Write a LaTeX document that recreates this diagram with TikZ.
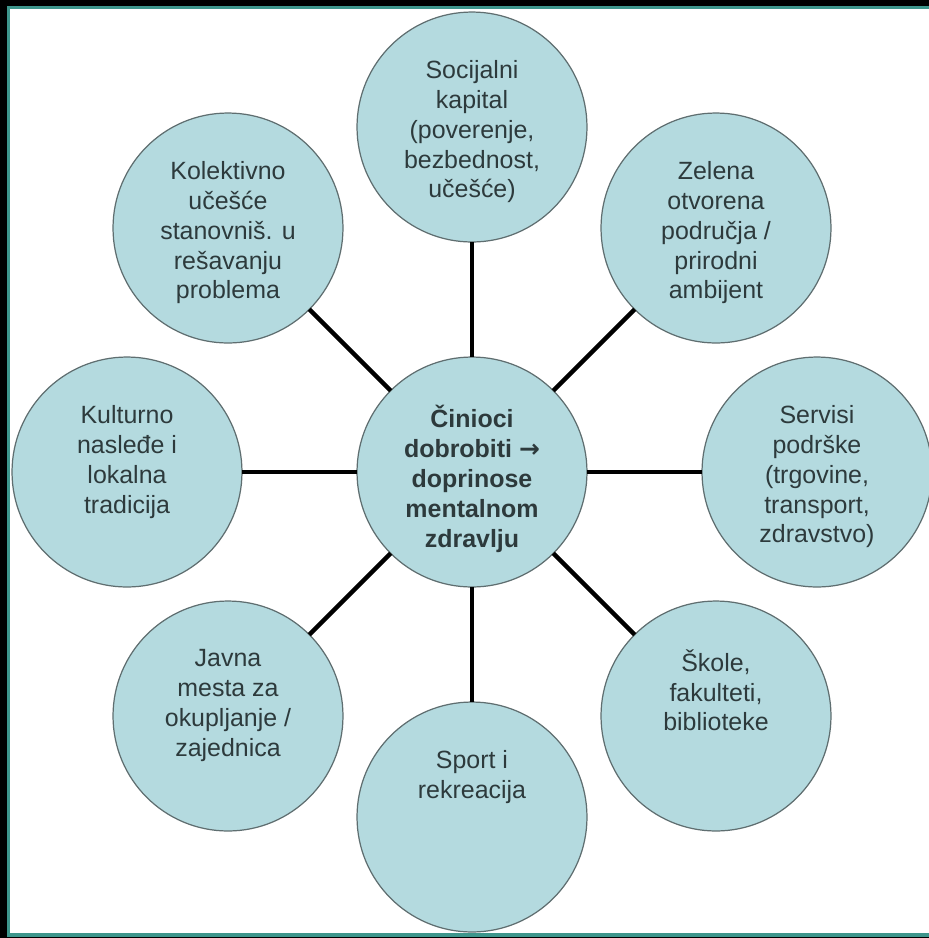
\documentclass[tikz,border=0pt]{standalone}
\usepackage{fontspec}
\setmainfont{Liberation Sans}
\newfontfamily\strelica{DejaVu Sans}

\definecolor{krugboja}{RGB}{180,218,223}
\definecolor{rubboja}{RGB}{95,110,112}
\definecolor{okvirboja}{RGB}{62,150,140}
\definecolor{tekstboja}{RGB}{45,58,60}

\begin{document}
\begin{tikzpicture}[x=0.02cm, y=-0.02cm,
	krug/.style={circle, draw=rubboja, line width=0.7pt, fill=krugboja, minimum size=4.6cm, inner sep=0pt, outer sep=0pt},
	tekst/.style={anchor=north, yshift=-0.96cm, align=center, inner sep=0pt, text=tekstboja, font=\fontsize{14.2}{17}\selectfont},
	veza/.style={line width=2.6pt, black}]
	\useasboundingbox (0,0) rectangle (929,938);
	\fill[black] (0,0) rectangle (929,938);
	\fill[white] (8.5,7.5) rectangle (931,935);

	\node[krug](centar) at (472,472) {};
	\node[krug](soc) at (472,127) {};
	\node[krug](zel) at (716,228) {};
	\node[krug](ser) at (817,472) {};
	\node[krug](sko) at (716,716) {};
	\node[krug](spo) at (472,817) {};
	\node[krug](jav) at (228,716) {};
	\node[krug](kul) at (127,472) {};
	\node[krug](kol) at (228,228) {};

	\draw[veza](centar) -- (soc);
	\draw[veza](centar) -- (zel);
	\draw[veza](centar) -- (ser);
	\draw[veza](centar) -- (sko);
	\draw[veza](centar) -- (spo);
	\draw[veza](centar) -- (jav);
	\draw[veza](centar) -- (kul);
	\draw[veza](centar) -- (kol);

	\node[tekst, font=\fontsize{14.2}{17}\selectfont\bfseries](centar-t) at (centar.north) {\v{C}inioci\\dobrobiti {\strelica →}\\doprinose\\mentalnom\\zdravlju};
	\node[tekst](soc-t) at (soc.north) {Socijalni\\kapital\\(poverenje,\\bezbednost,\\učešće)};
	\node[tekst](zel-t) at (zel.north) {Zelena\\otvorena\\područja /\\prirodni\\ambijent};
	\node[tekst](ser-t) at (ser.north) {Servisi\\podrške\\(trgovine,\\transport,\\zdravstvo)};
	\node[tekst](sko-t) at (sko.north) {Škole,\\fakulteti,\\biblioteke};
	\node[tekst](spo-t) at (spo.north) {Sport i\\rekreacija};
	\node[tekst](jav-t) at (jav.north) {Javna\\mesta za\\okupljanje /\\zajednica};
	\node[tekst](kul-t) at (kul.north) {Kulturno\\nasleđe i\\lokalna\\tradicija};
	\node[tekst](kol-t) at (kol.north) {Kolektivno\\učešće\\stanovniš. u\\rešavanju\\problema};

	\draw[okvirboja, line width=2.2pt] (8.5,7.5) rectangle (931,935);
\end{tikzpicture}
\end{document}
